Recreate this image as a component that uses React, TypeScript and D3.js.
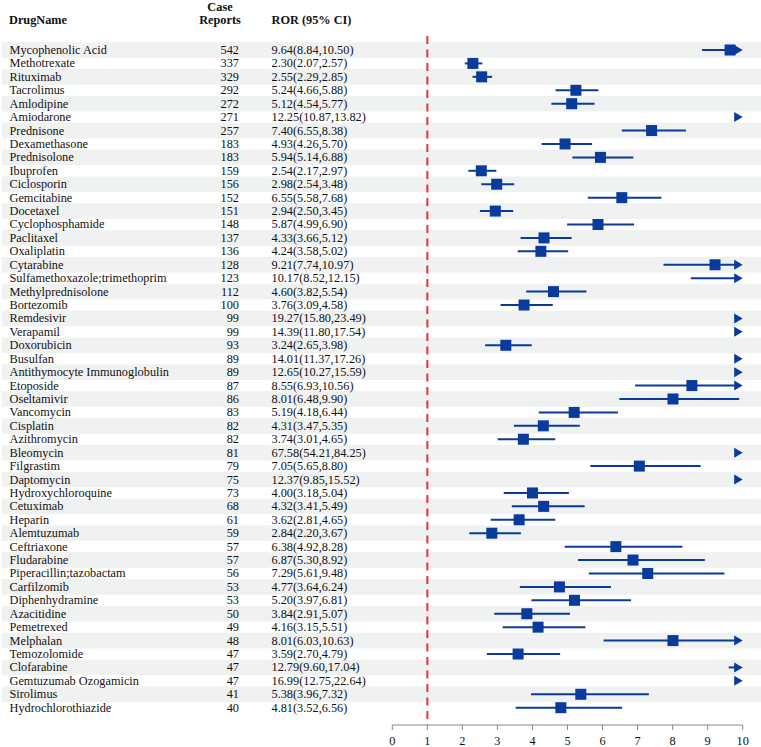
import React from "react";
import * as d3 from "d3";

const drugs = [
  "Mycophenolic Acid", "Methotrexate", "Rituximab", "Tacrolimus", "Amlodipine", "Amiodarone",
  "Prednisone", "Dexamethasone", "Prednisolone", "Ibuprofen", "Ciclosporin", "Gemcitabine",
  "Docetaxel", "Cyclophosphamide", "Paclitaxel", "Oxaliplatin", "Cytarabine",
  "Sulfamethoxazole;trimethoprim", "Methylprednisolone", "Bortezomib", "Remdesivir", "Verapamil",
  "Doxorubicin", "Busulfan", "Antithymocyte Immunoglobulin", "Etoposide", "Oseltamivir",
  "Vancomycin", "Cisplatin", "Azithromycin", "Bleomycin", "Filgrastim", "Daptomycin",
  "Hydroxychloroquine", "Cetuximab", "Heparin", "Alemtuzumab", "Ceftriaxone", "Fludarabine",
  "Piperacillin;tazobactam", "Carfilzomib", "Diphenhydramine", "Azacitidine", "Pemetrexed",
  "Melphalan", "Temozolomide", "Clofarabine", "Gemtuzumab Ozogamicin", "Sirolimus",
  "Hydrochlorothiazide",
];
const caseReports = [
  542, 337, 329, 292, 272, 271, 257, 183, 183, 159, 156, 152, 151, 148, 137, 136, 128, 123, 112,
  100, 99, 99, 93, 89, 89, 87, 86, 83, 82, 82, 81, 79, 75, 73, 68, 61, 59, 57, 57, 56, 53, 53, 50,
  49, 48, 47, 47, 47, 41, 40,
];
const rorValues = [
  9.64, 2.3, 2.55, 5.24, 5.12, 12.25, 7.4, 4.93, 5.94, 2.54, 2.98, 6.55, 2.94, 5.87, 4.33, 4.24,
  9.21, 10.17, 4.6, 3.76, 19.27, 14.39, 3.24, 14.01, 12.65, 8.55, 8.01, 5.19, 4.31, 3.74, 67.58,
  7.05, 12.37, 4.0, 4.32, 3.62, 2.84, 6.38, 6.87, 7.29, 4.77, 5.2, 3.84, 4.16, 8.01, 3.59, 12.79,
  16.99, 5.38, 4.81,
];
const ciLower = [
  8.84, 2.07, 2.29, 4.66, 4.54, 10.87, 6.55, 4.26, 5.14, 2.17, 2.54, 5.58, 2.5, 4.99, 3.66, 3.58,
  7.74, 8.52, 3.82, 3.09, 15.8, 11.8, 2.65, 11.37, 10.27, 6.93, 6.48, 4.18, 3.47, 3.01, 54.21,
  5.65, 9.85, 3.18, 3.41, 2.81, 2.2, 4.92, 5.3, 5.61, 3.64, 3.97, 2.91, 3.15, 6.03, 2.7, 9.6,
  12.75, 3.96, 3.52,
];
const ciUpper = [
  10.5, 2.57, 2.85, 5.88, 5.77, 13.82, 8.38, 5.7, 6.88, 2.97, 3.48, 7.68, 3.45, 6.9, 5.12, 5.02,
  10.97, 12.15, 5.54, 4.58, 23.49, 17.54, 3.98, 17.26, 15.59, 10.56, 9.9, 6.44, 5.35, 4.65, 84.25,
  8.8, 15.52, 5.04, 5.49, 4.65, 3.67, 8.28, 8.92, 9.48, 6.24, 6.81, 5.07, 5.51, 10.63, 4.79, 17.04,
  22.64, 7.32, 6.56,
];
const xTicks = [0, 1, 2, 3, 4, 5, 6, 7, 8, 9, 10];
const refValue = 1;
const headers = { drug: "DrugName", case1: "Case", case2: "Reports", ror: "ROR (95% CI)" };

const W = 761;
const H = 747;
const FONT = "\"Liberation Serif\", \"Times New Roman\", Times, serif";
const BLUE = "#0a3a9c";
const TXT: React.CSSProperties = { fontFamily: FONT, fontSize: "12.3px" };

export default function App() {
  const x = d3.scaleLinear().domain([0, 10]).range([392.3, 742.7]);
  const y = d3.scaleLinear().domain([0, drugs.length - 1]).range([50, 707.7]);
  const axisY = 725;
  const maxV = 10;

  return (
    <svg
      width={W}
      height={H}
      style={{ position: "absolute", left: 0, top: 0, display: "block", background: "#fff", fontFamily: FONT }}
    >
      {/* zebra stripes */}
      {drugs.map((d, i) =>
        i % 2 === 0 ? (
          <rect key={"s" + i} x={2} y={y(i) - 7.8} width={W - 2} height={15.6} fill="#f0f1f1" />
        ) : null
      )}

      {/* headers */}
      <g fill="#111">
        <text x={9} y={24} style={{ ...TXT, fontWeight: "bold" }}>{headers.drug}</text>
        <text x={220} y={11} textAnchor="middle" style={{ ...TXT, fontWeight: "bold" }}>{headers.case1}</text>
        <text x={220} y={24} textAnchor="middle" style={{ ...TXT, fontWeight: "bold" }}>{headers.case2}</text>
        <text x={271.5} y={24} style={{ ...TXT, fontWeight: "bold" }}>{headers.ror}</text>
      </g>

      {/* table text */}
      <g fill="#111">
        {drugs.map((d, i) => (
          <g key={"t" + i}>
            <text x={9.5} y={y(i) + 4} style={TXT}>{d}</text>
            <text x={239} y={y(i) + 4} textAnchor="end" style={TXT}>{caseReports[i]}</text>
            <text x={271.5} y={y(i) + 4} style={TXT}>
              {`${rorValues[i].toFixed(2)}(${ciLower[i].toFixed(2)},${ciUpper[i].toFixed(2)})`}
            </text>
          </g>
        ))}
      </g>

      {/* reference line */}
      <line
        x1={x(refValue)}
        x2={x(refValue)}
        y1={36}
        y2={axisY}
        stroke="#ee3333"
        strokeWidth={2}
        strokeDasharray="8,5.5"
      />

      {/* CIs and markers */}
      {drugs.map((d, i) => {
        const cy = y(i);
        const lo = ciLower[i];
        const hi = ciUpper[i];
        const est = rorValues[i];
        const clipped = hi > maxV;
        const sq = 11;
        return (
          <g key={"m" + i}>
            {lo < maxV && (
              <line
                x1={x(lo)}
                x2={clipped ? x(maxV) - 6 : x(hi)}
                y1={cy}
                y2={cy}
                stroke={BLUE}
                strokeWidth={2}
              />
            )}
            {est <= maxV && (
              <rect x={x(est) - sq / 2} y={cy - sq / 2} width={sq} height={sq} fill={BLUE} />
            )}
            {clipped && (
              <path
                d={`M${x(maxV) - 8.5},${cy - 5} L${x(maxV)},${cy} L${x(maxV) - 8.5},${cy + 5} Z`}
                fill={BLUE}
              />
            )}
          </g>
        );
      })}

      {/* axis */}
      <g>
        <line x1={x(0)} x2={x(10)} y1={axisY} y2={axisY} stroke="#888" strokeWidth={1} />
        {xTicks.map((t) => (
          <g key={"k" + t}>
            <line x1={x(t)} x2={x(t)} y1={axisY} y2={axisY + 5} stroke="#888" strokeWidth={1} />
            <text x={x(t)} y={745} textAnchor="middle" fill="#111" style={TXT}>
              {t}
            </text>
          </g>
        ))}
      </g>
    </svg>
  );
}
